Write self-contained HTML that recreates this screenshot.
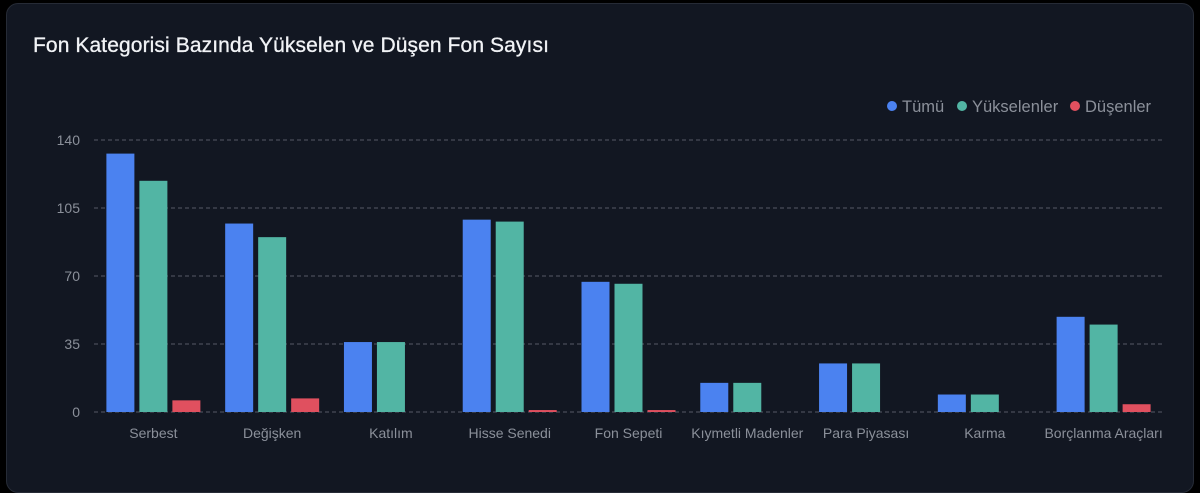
<!DOCTYPE html>
<html><head><meta charset="utf-8"><style>
html,body{margin:0;padding:0;background:#000;width:1200px;height:479px;overflow:hidden;font-family:"Liberation Sans",sans-serif}
#card{position:absolute;left:6px;top:3px;width:1188px;height:490px;background:#121722;border:1px solid #262b36;border-radius:12px;box-sizing:border-box}
#title{position:absolute;left:33px;top:34px;color:#f1f3f6;font-size:21px;margin:0;font-weight:normal;letter-spacing:0.1px;-webkit-text-stroke:0.3px #f1f3f6}
</style></head><body>
<div id="card"></div>
<h1 id="title">Fon Kategorisi Bazında Yükselen ve Düşen Fon Sayısı</h1>
<svg id="chart" width="1200" height="479" style="position:absolute;left:0;top:0"></svg>
<script>
const categories=["Serbest","Değişken","Katılım","Hisse Senedi","Fon Sepeti","Kıymetli Madenler","Para Piyasası","Karma","Borçlanma Araçları"];
const tumu=[133,97,36,99,67,15,25,9,49];
const yukselen=[119,90,36,98,66,15,25,9,45];
const dusen=[6,7,0,1,1,0,0,0,4];
const ticks=[0,35,70,105,140];
const seriesNames=["Tümü","Yükselenler","Düşenler"];
const colors=["#4b82f0","#52b5a4","#e0505f"];
const NS="http://www.w3.org/2000/svg";
const svg=document.getElementById('chart');
const x0=94,x1=1163,y0=412,y1=140,yMax=140;
const bw=(x1-x0)/categories.length;
function y(v){return y0-(v/yMax)*(y0-y1);}
function xc(i){return x0+bw*(i+0.5);}
function mk(t,a){const e=document.createElementNS(NS,t);for(const k in a)e.setAttribute(k,a[k]);svg.appendChild(e);return e;}
ticks.forEach(t=>{
  const l=mk('line',{x1:x0,x2:x1,y1:y(t),y2:y(t),stroke:'#555a65','stroke-dasharray':'4 3','stroke-width':1});
  
  
  const tx=mk('text',{x:80,y:y(t)+5,'text-anchor':'end',fill:'#8b909a','font-size':14,'font-family':'Liberation Sans, sans-serif'});
  tx.textContent=t;
  
  
});
const series=[tumu,yukselen,dusen];
const barW=28,gap=5;
categories.forEach((c,i)=>{
  series.forEach((s,k)=>{
    const bx=xc(i)-47+k*(barW+gap);
    const r=mk('rect',{x:bx,y:y(s[i]),width:barW,height:y0-y(s[i]),fill:colors[k]});
    
    
  });
  const t=mk('text',{x:xc(i),y:438,'text-anchor':'middle',fill:'#8b909a','font-size':14,'font-family':'Liberation Sans, sans-serif'});
  t.textContent=c;
  
  
});
const legX=[892,962,1075];
seriesNames.forEach((n,k)=>{
  const g=document.createElementNS(NS,'g');svg.appendChild(g);
  
  
  const c=document.createElementNS(NS,'circle');
  c.setAttribute('cx',legX[k]);c.setAttribute('cy',106);c.setAttribute('r',5);c.setAttribute('fill',colors[k]);g.appendChild(c);
  const t=document.createElementNS(NS,'text');
  t.setAttribute('x',legX[k]+10);t.setAttribute('y',112);t.setAttribute('fill','#8b909a');t.setAttribute('font-size',16.5);t.setAttribute('font-family','Liberation Sans, sans-serif');
  t.textContent=n;g.appendChild(t);
});
</script>
</body></html>
